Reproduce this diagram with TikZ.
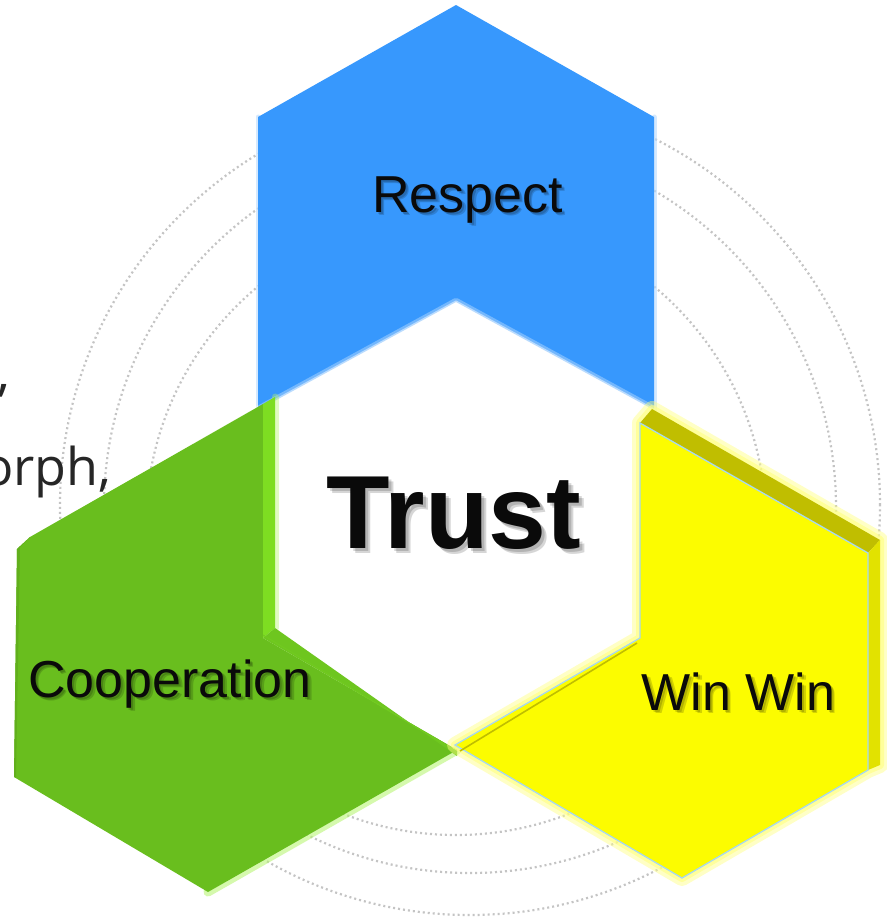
\documentclass[tikz,border=0pt]{standalone}
\usepackage{fontspec}
\setmainfont{Liberation Sans}
\newfontfamily\osans{Open Sans}
\definecolor{hblue}{HTML}{3798FD}
\definecolor{hgreen}{HTML}{69BE1E}
\definecolor{hgreenlt}{HTML}{7EDD22}
\definecolor{hgreenglow}{HTML}{B4F56A}
\definecolor{hyellow}{HTML}{FCFC00}
\definecolor{hyelside}{HTML}{E2E200}
\definecolor{hyeltop}{HTML}{C0BE00}
\definecolor{hyelglow}{HTML}{FFFF80}
\definecolor{hedge}{HTML}{A8D8F0}
\definecolor{dotgray}{HTML}{C4C4C4}
\definecolor{txt}{HTML}{0A0A0A}
\begin{document}
\begin{tikzpicture}[x=1pt,y=-1pt,
  ring/.style={draw=dotgray, line width=2.2pt, dash pattern=on 2pt off 3pt},
  lbl/.style={anchor=base, font=\fontsize{52}{60}\selectfont, text=txt, inner sep=0pt},
  shd/.style={anchor=base, font=\fontsize{52}{60}\selectfont, text=black, opacity=0.16, inner sep=0pt},
  big/.style={anchor=base, font=\bfseries\fontsize{104}{120}\selectfont, text=txt, inner sep=0pt},
  bigshd/.style={anchor=base, font=\bfseries\fontsize{104}{120}\selectfont, text=black, opacity=0.16, inner sep=0pt},
  side/.style={anchor=base west, font=\osans\fontsize{52}{60}\selectfont, text=black!85, inner sep=0pt},
  glow/.style={line join=round, line cap=round}
]
\fill[white] (0,0) rectangle (886,918);
\useasboundingbox (0,0) rectangle (886,918);

% background dotted rings
\draw[ring] (456,525) circle[radius=310pt];
\draw[ring] (470,507) circle[radius=366pt];
\draw[ring] (470,505) circle[radius=410pt];

% cut-off side text
\node[side] (comma) at (-3,390) {,};
\node[side] (orph) at (-18,485) {orph,};

% coordinates of the three shapes
\coordinate (b1) at (258,117); \coordinate (b2) at (456,5); \coordinate (b3) at (654,117);
\coordinate (b4) at (654,410); \coordinate (b5) at (456,302); \coordinate (b6) at (258,410);

\coordinate (g1) at (263,404); \coordinate (g2) at (30,537); \coordinate (g3) at (17,549);
\coordinate (g4) at (14,777); \coordinate (g5) at (208,892); \coordinate (g6) at (457,750);
\coordinate (g7) at (263,638); \coordinate (g8) at (275,397); \coordinate (g9) at (275,628);

\coordinate (y1) at (640,423); \coordinate (y2) at (868,553); \coordinate (y3) at (868,770);
\coordinate (y4) at (682,878); \coordinate (y5) at (455,745); \coordinate (y6) at (640,638);
\coordinate (t1) at (652,409); \coordinate (t2) at (880,540); \coordinate (t3) at (880,765);

% blue shape
\draw[glow, hblue!35, line width=5pt, opacity=0.6] (b1) -- (b6);
\draw[glow, hblue!35, line width=5pt, opacity=0.6] (b3) -- (b4);
\fill[hblue] (b1) -- (b2) -- (b3) -- (b4) -- (b5) -- (b6) -- cycle;
\draw[glow, white, line width=8pt, opacity=0.3] (b6) -- (b5) -- (b4);
\draw[glow, white, line width=3pt, opacity=0.5] (b6) -- (b5) -- (b4);

% green shape
\draw[glow, hgreenglow, line width=9pt, opacity=0.55] (g5) -- (g6);
\draw[glow, hgreenglow, line width=7pt, opacity=0.4] (g8) -- (g9);
\fill[hgreen] (g1) -- (g2) -- (g3) -- (g4) -- (g5) -- (g6) -- (g7) -- cycle;
\fill[hgreen!92!black] (g2) -- (g3) -- (g4) -- ([xshift=2pt]g4) -- ([xshift=3pt,yshift=2pt]g3) -- cycle;
\fill[hgreenlt] (g1) -- (g8) -- (g9) -- (g7) -- cycle;
\fill[hgreen!75!hgreenlt] (g7) -- (g9) -- ([yshift=-6pt]g6) -- (g6) -- cycle;
\draw[hgreen!60!hgreenlt, line width=1pt] ([yshift=3pt]g7) -- ([yshift=-2pt]g6);

% yellow shape
\draw[glow, hyelglow, line width=16pt, opacity=0.45]
  (y1) -- (t1) -- (t2) -- (t3) -- (y3) -- (y4) -- (y5) -- (y6) -- cycle;
\draw[glow, hyelglow, line width=8pt, opacity=0.6]
  (y1) -- (t1) -- (t2) -- (t3) -- (y3) -- (y4) -- (y5) -- (y6) -- cycle;
\fill[hyeltop] (y1) -- (t1) -- (t2) -- (y2) -- cycle;
\fill[hyelside] (y2) -- (t2) -- (t3) -- (y3) -- cycle;
\fill[hyellow] (y1) -- (y2) -- (y3) -- (y4) -- (y5) -- (y6) -- cycle;
\draw[hedge, line width=1.3pt, line join=miter] (y1) -- (y2) -- (y3) -- (y4) -- (y5) -- (y6) -- cycle;
\draw[hyeltop, line width=1.6pt] ([xshift=5pt,yshift=-6pt]y5) -- ([xshift=-3pt,yshift=-5pt]y6);

% labels with soft shadows
\node[shd] at (469.5,214) {Respect};
\node[shd] at (471,215.5) {Respect};
\node[lbl] (respect) at (467.5,212) {Respect};
\node[shd] at (172,699) {Cooperation};
\node[shd] at (173.5,700.5) {Cooperation};
\node[lbl] (coop) at (170,697) {Cooperation};
\node[shd] at (740.5,712) {Win Win};
\node[shd] at (742,713.5) {Win Win};
\node[lbl] (winwin) at (738.5,710) {Win Win};
\node[bigshd] at (457,551) {Trust};
\node[bigshd] at (459,553) {Trust};
\node[big] (trust) at (454,548) {Trust};
\end{tikzpicture}
\end{document}
